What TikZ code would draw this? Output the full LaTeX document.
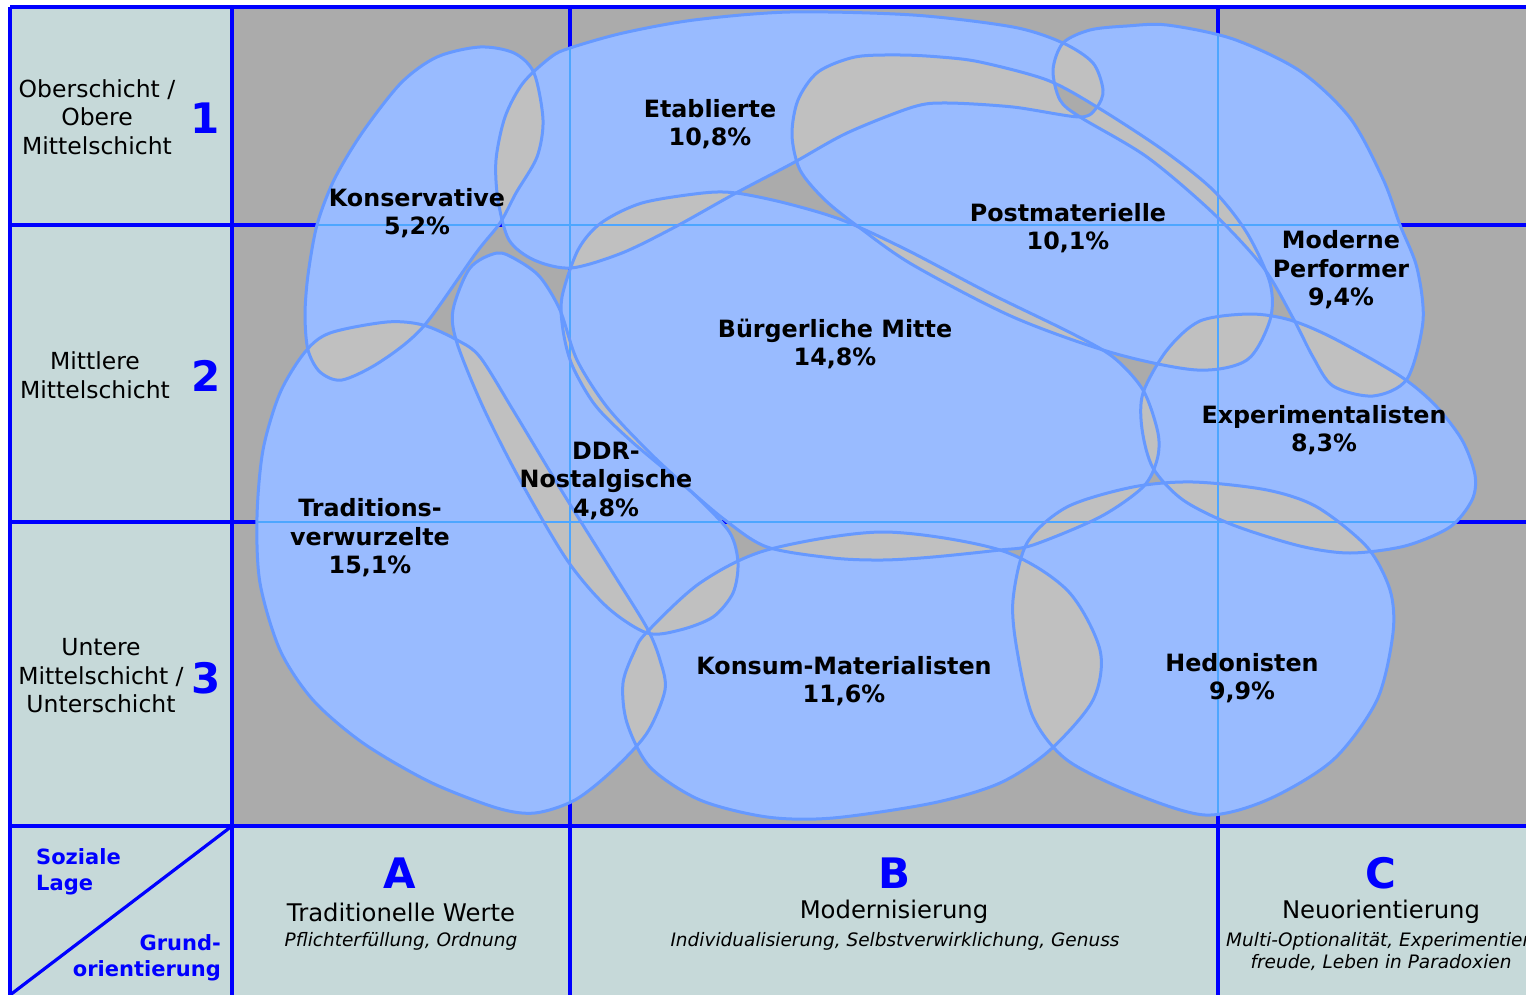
\documentclass[tikz,border=0pt]{standalone}
\usepackage{fontspec}
\setmainfont{DejaVu Sans}
\definecolor{bgray}{HTML}{ABABAB}
\definecolor{panel}{HTML}{C6D9D9}
\definecolor{gridblue}{HTML}{0000FF}
\definecolor{blobfill}{HTML}{99BBFF}
\definecolor{blobline}{HTML}{6699FF}
\definecolor{ovl}{HTML}{C0C0C0}
\definecolor{thinblue}{HTML}{4DA6FF}
\newcommand\blobKons{plot[smooth cycle] coordinates {(342,380) (320,372) (308,350) (305,315) (308,275) (317,225) (334,180) (362,133) (401,83) (437,57) (480,47) (514,53) (534,73) (543,120) (537,157) (516,193) (500,223) (476,253) (423,327) (380,362)}}
\newcommand\blobEtab{plot[smooth cycle] coordinates {(570,48) (623,33) (694,20) (790,12) (913,15) (1013,27) (1063,43) (1093,63) (1103,90) (1097,107) (1080,117) (1013,107) (947,103) (913,107) (847,133) (793,163) (736,193) (675,227) (622,253) (571,268) (534,260) (509,240) (498,200) (496,160) (505,117) (523,83) (551,57)}}
\newcommand\blobPost{plot[smooth cycle] coordinates {(900,55) (855,57) (818,72) (798,100) (792,135) (800,170) (825,200) (860,228) (913,265) (1013,317) (1113,353) (1197,370) (1247,360) (1270,320) (1270,283) (1247,233) (1213,190) (1163,150) (1097,107) (1047,80) (980,62) (940,57)}}
\newcommand\blobBM{plot[smooth cycle] coordinates {(562,297) (563,330) (572,365) (595,405) (630,440) (680,482) (725,520) (767,547) (833,558) (883,560) (933,557) (1000,550) (1033,545) (1100,517) (1143,487) (1157,460) (1158,433) (1143,390) (1113,357) (1071,333) (989,293) (907,250) (842,220) (785,203) (736,193) (703,193) (642,203) (601,223) (578,250)}}
\newcommand\blobDDR{plot[smooth cycle] coordinates {(497,253) (517,260) (540,277) (560,310) (577,360) (607,407) (650,453) (700,500) (730,533) (738,563) (733,593) (713,617) (680,630) (647,633) (607,607) (567,560) (520,480) (483,407) (457,343) (453,310) (470,268)}}
\newcommand\blobTrad{plot[smooth cycle] coordinates {(387,322) (330,333) (305,352) (280,393) (263,450) (257,517) (260,583) (280,650) (313,700) (363,743) (430,782) (497,808) (535,813) (575,800) (613,770) (647,733) (665,690) (660,660) (647,628) (613,573) (563,493) (513,410) (480,357) (457,340) (423,325)}}
\newcommand\blobKM{plot[smooth cycle] coordinates {(647,632) (700,583) (767,550) (883,532) (1000,550) (1067,590) (1100,650) (1093,700) (1050,750) (1000,783) (933,803) (833,818) (767,817) (700,800) (650,767) (627,723) (623,683) (635,650)}}
\newcommand\blobMP{plot[smooth cycle] coordinates {(1053,70) (1063,43) (1090,30) (1127,26) (1167,25) (1233,39) (1300,71) (1350,118) (1383,179) (1400,225) (1417,268) (1423,321) (1407,379) (1373,396) (1333,386) (1313,357) (1293,318) (1263,267) (1213,213) (1147,157) (1080,117) (1060,100)}}
\newcommand\blobExp{plot[smooth cycle] coordinates {(1250,314) (1200,321) (1167,350) (1143,393) (1142,429) (1153,468) (1183,500) (1233,525) (1300,546) (1350,553) (1405,546) (1450,527) (1472,500) (1475,475) (1462,440) (1435,405) (1400,376) (1333,338) (1290,320)}}
\newcommand\blobHed{plot[smooth cycle] coordinates {(1193,482) (1133,487) (1067,507) (1027,543) (1013,600) (1017,650) (1033,717) (1067,760) (1133,793) (1205,815) (1267,800) (1333,760) (1377,700) (1393,633) (1390,590) (1367,547) (1317,507) (1267,490)}}
\newcommand\drawthingrid{\draw[thinline] (232,225) -- (1540,225) (232,522) -- (1540,522) (570,7) -- (570,826) (1218,7) -- (1218,826);}
\begin{document}
\begin{tikzpicture}[x=1pt,y=-1pt,
  gridline/.style={draw=gridblue,line width=3.2pt},
  thinline/.style={draw=thinblue,line width=1.2pt},
  blobedge/.style={draw=blobline,line width=3pt},
  lbl/.style={font=\fontsize{23.8}{28.5}\selectfont\bfseries, align=center, inner sep=0pt},
  rowlbl/.style={font=\fontsize{23.5}{28.5}\selectfont, align=center, inner sep=0pt},
  bignum/.style={font=\fontsize{42}{48}\selectfont\bfseries, text=gridblue, inner sep=0pt},
  colttl/.style={font=\fontsize{24.3}{28}\selectfont, inner sep=0pt},
  colsub/.style={font=\fontsize{18.5}{22}\selectfont\itshape, align=center, inner sep=0pt},
  axlbl/.style={font=\fontsize{21}{26}\selectfont\bfseries, text=gridblue, inner sep=0pt}]
\useasboundingbox (0,0) rectangle (1526,995);
\clip (0,0) rectangle (1526,995);
\fill[white] (0,0) rectangle (1526,995);
% panels and field
\fill[panel] (10,7) rectangle (232,1000);
\fill[panel] (232,826) rectangle (1540,1000);
\fill[bgray] (232,7) rectangle (1540,826);
% grid
\draw[gridline] (10,7) -- (1540,7) (10,225) -- (1540,225) (10,522) -- (1540,522) (10,826) -- (1540,826);
\draw[gridline] (10,7) -- (10,1000) (232,7) -- (232,1000) (570,7) -- (570,1000) (1218,7) -- (1218,1000);
\draw[gridline] (232,826) -- (10,995);
% blobs: union light grey, single coverage blue (even-odd)
\fill[ovl] \blobKons; \fill[ovl] \blobEtab; \fill[ovl] \blobPost; \fill[ovl] \blobBM; \fill[ovl] \blobDDR;
\fill[ovl] \blobTrad; \fill[ovl] \blobKM; \fill[ovl] \blobMP; \fill[ovl] \blobExp; \fill[ovl] \blobHed;
\fill[blobfill, even odd rule] \blobKons \blobEtab \blobPost \blobBM \blobDDR \blobTrad \blobKM \blobMP \blobExp \blobHed;
% triple overlap
\begin{scope}
\clip \blobEtab; \clip \blobMP; \fill[bgray] \blobPost;
\end{scope}
% thin grid lines inside the blobs
\begin{scope}\clip \blobKons; \drawthingrid \end{scope}
\begin{scope}\clip \blobEtab; \drawthingrid \end{scope}
\begin{scope}\clip \blobPost; \drawthingrid \end{scope}
\begin{scope}\clip \blobBM; \drawthingrid \end{scope}
\begin{scope}\clip \blobDDR; \drawthingrid \end{scope}
\begin{scope}\clip \blobTrad; \drawthingrid \end{scope}
\begin{scope}\clip \blobKM; \drawthingrid \end{scope}
\begin{scope}\clip \blobMP; \drawthingrid \end{scope}
\begin{scope}\clip \blobExp; \drawthingrid \end{scope}
\begin{scope}\clip \blobHed; \drawthingrid \end{scope}
% outlines
\draw[blobedge] \blobKons; \draw[blobedge] \blobEtab; \draw[blobedge] \blobPost; \draw[blobedge] \blobBM; \draw[blobedge] \blobDDR;
\draw[blobedge] \blobTrad; \draw[blobedge] \blobKM; \draw[blobedge] \blobMP; \draw[blobedge] \blobExp; \draw[blobedge] \blobHed;
% milieu labels
\node[lbl] (kons) at (417,213) {Konservative\\5,2\%};
\node[lbl] (etab) at (710,124) {Etablierte\\10,8\%};
\node[lbl] (post) at (1068,228) {Postmaterielle\\10,1\%};
\node[lbl] (mp) at (1341,270) {Moderne\\Performer\\9,4\%};
\node[lbl] (bm) at (835,344) {Bürgerliche Mitte\\14,8\%};
\node[lbl] (exp) at (1324,430) {Experimentalisten\\8,3\%};
\node[lbl] (ddr) at (606,481) {DDR-\\Nostalgische\\4,8\%};
\node[lbl] (trad) at (370,538) {Traditions-\\verwurzelte\\15,1\%};
\node[lbl] (km) at (844,681) {Konsum-Materialisten\\11,6\%};
\node[lbl] (hed) at (1242,678) {Hedonisten\\9,9\%};
% row labels
\node[rowlbl] (r1) at (97,117) {Oberschicht /\\Obere\\Mittelschicht};
\node[rowlbl] (r2) at (95,375) {Mittlere\\Mittelschicht};
\node[rowlbl] (r3) at (101,676) {Untere\\Mittelschicht /\\Unterschicht};
\node[bignum] (n1) at (205,118) {1};
\node[bignum] (n2) at (206,376) {2};
\node[bignum] (n3) at (206,678) {3};
% column labels
\node[bignum] (ca) at (400,873) {A};
\node[colttl] (ta) at (401,912) {Traditionelle Werte};
\node[colsub] (sa) at (401,941) {Pflichterfüllung, Ordnung};
\node[bignum] (cb) at (894,873) {B};
\node[colttl] (tb) at (894,912) {Modernisierung};
\node[colsub] (sb) at (895,941) {Individualisierung, Selbstverwirklichung, Genuss};
\node[bignum] (cc) at (1381,873) {C};
\node[colttl] (tc) at (1381,912) {Neuorientierung};
\node[colsub, anchor=north] (sc) at (1381,932) {Multi-Optionalität, Experimentier-\\freude, Leben in Paradoxien};
% corner labels
\node[axlbl, anchor=west, align=left] (soz) at (36,872) {Soziale\\Lage};
\node[axlbl, anchor=east, align=right] (grund) at (221,958) {Grund-\\orientierung};
\end{tikzpicture}
\end{document}
